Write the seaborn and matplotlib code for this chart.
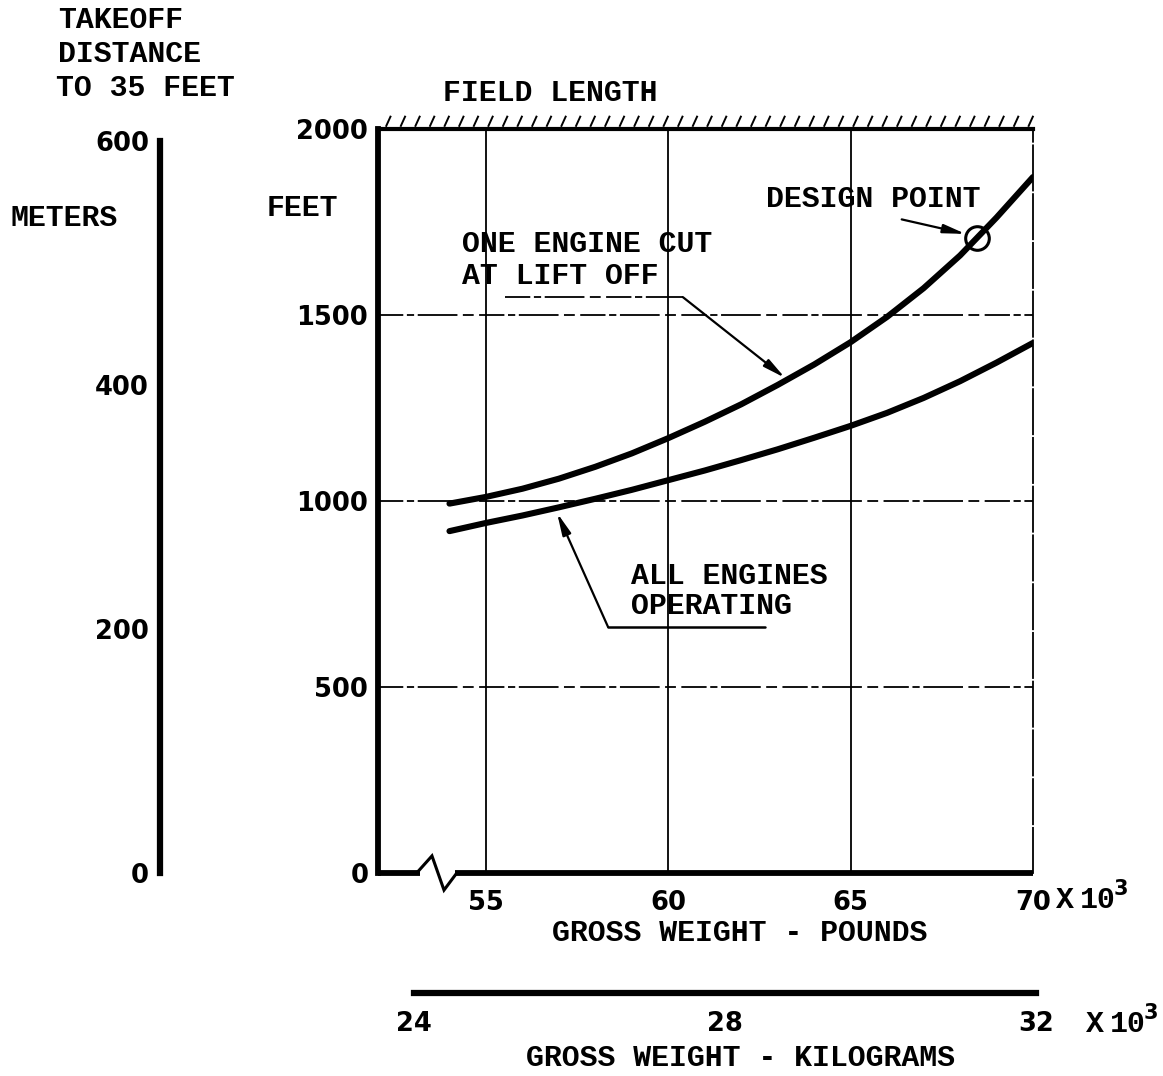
import numpy as np
import pandas as pd
import matplotlib
matplotlib.use("Agg")
import matplotlib.pyplot as plt
from matplotlib.collections import LineCollection
import seaborn as sns

# Gross weight (thousands of pounds) and takeoff distance to 35 ft (feet)
weight_klb = [54, 55, 56, 57, 58, 59, 60, 61, 62, 63, 64, 65, 66, 67, 68, 69, 70]
one_engine_cut_ft = [993, 1011, 1033, 1060, 1092, 1128, 1169, 1213, 1260, 1312,
                     1367, 1427, 1495, 1572, 1660, 1762, 1871]
all_engines_ft = [919, 941, 961, 983, 1006, 1030, 1056, 1082, 1110, 1139,
                  1170, 1202, 1237, 1277, 1322, 1372, 1425]

design_point_klb = 68.46
design_point_ft = 1708

feet_ticks = [0, 500, 1000, 1500, 2000]
pound_ticks = [55, 60, 65, 70]
meter_ticks = [0, 200, 400, 600]
kilogram_ticks = [24, 28, 32]

FT_TO_M = 0.3048

df = pd.DataFrame({
    "weight": weight_klb * 2,
    "distance": one_engine_cut_ft + all_engines_ft,
    "case": ["one engine cut"] * len(weight_klb) + ["all engines"] * len(weight_klb),
})

sns.set_theme(style="white")
plt.rcParams["font.family"] = ["DejaVu Sans"]
TYPE = dict(family="Liberation Mono", fontweight="bold", fontsize=21.5, color="black")
NUM = dict(family="DejaVu Sans", fontweight="bold", fontsize=18.5, color="black")
SUP = dict(family="DejaVu Sans", fontweight="bold", fontsize=15, color="black")

W, H = 1163, 1076
fig = plt.figure(figsize=(W / 100, H / 100), dpi=100)
fig.patch.set_facecolor("white")


def fx(px):
    return px / W


def fy(py):
    return 1 - py / H


# main chart in pounds / feet
left, right, top, bottom = 378, 1033, 129, 873
ax = fig.add_axes([fx(left), fy(bottom), fx(right - left), fy(top) - fy(bottom)])
xmin = 52.04
ax.set_xlim(xmin, 70)
ax.set_ylim(0, 2000)
ax.set_facecolor("white")

sns.lineplot(data=df, x="weight", y="distance", hue="case",
             palette={"one engine cut": "black", "all engines": "black"},
             linewidth=4.4, legend=False, ax=ax, solid_capstyle="round")

# grid
for v in pound_ticks[:-1]:
    ax.axvline(v, color="black", lw=1.3, zorder=1)
for h in feet_ticks[1:-1]:
    ax.axhline(h, color="black", lw=1.3, linestyle=(0, (14, 2, 4, 2, 22, 3, 6, 3)), zorder=1)

# frame
ax.spines["left"].set_linewidth(4.2)
ax.spines["top"].set_linewidth(3.0)
ax.spines["right"].set_linewidth(1.3)
ax.spines["right"].set_linestyle((0, (25, 2)))
ax.spines["bottom"].set_visible(False)
for s in ax.spines.values():
    s.set_color("black")

# baseline with axis break
ax.plot([xmin, 53.19], [0, 0], color="black", lw=4.2, clip_on=False, solid_capstyle="butt")
ax.plot([54.15, 70], [0, 0], color="black", lw=4.2, clip_on=False, solid_capstyle="butt")
ax.plot([53.1, 53.52, 53.85, 54.2], [0, 46, -46, 0], color="black", lw=2.2,
        clip_on=False, solid_joinstyle="miter")

ax.set_xticks(pound_ticks)
ax.set_yticks(feet_ticks)
ax.set_xticklabels([str(t) for t in pound_ticks], **NUM)
ax.set_yticklabels([str(t) for t in feet_ticks], **NUM)
ax.tick_params(axis="x", length=4, width=2, pad=8, direction="out", color="black")
ax.tick_params(axis="y", length=3, width=2, pad=4, direction="out", color="black")
ax.set_xlabel("")
ax.set_ylabel("")
ax.grid(False)

# field-length hatching above the top edge
hx = np.arange(0.012, 1.0, 14.6 / (right - left))
segs = [[(x0, 1.003), (x0 + 5.0 / (right - left), 1.003 + 11.0 / (bottom - top))] for x0 in hx]
ax.add_collection(LineCollection(segs, colors="black", linewidths=1.4,
                                 transform=ax.transAxes, clip_on=False))

# design point
ax.plot([design_point_klb], [design_point_ft], marker="o", markersize=17,
        markerfacecolor="none", markeredgecolor="black", markeredgewidth=2.2)

arrow = dict(arrowstyle="-|>,head_length=1.1,head_width=0.22", color="black", lw=1.6,
             shrinkA=0, shrinkB=0)
ax.annotate("", xy=(68.15, 1718), xytext=(66.4, 1757), arrowprops=arrow)

# leader for the one-engine-cut curve
ax.plot([55.52, 60.40], [1548, 1548], color="black", lw=1.3,
        linestyle=(0, (14, 2, 4, 2, 22, 3, 6, 3)))
ax.annotate("", xy=(63.2, 1331), xytext=(60.40, 1548), arrowprops=arrow)

# leader for the all-engines curve
ax.plot([58.35, 62.65], [661, 661], color="black", lw=1.8)
ax.annotate("", xy=(56.95, 968), xytext=(58.35, 661), arrowprops=arrow)

# metres scale
mh = fy(top) - fy(bottom)
axm = fig.add_axes([fx(160), fy(bottom), 0.01, mh])
axm.set_ylim(0, 2000 * FT_TO_M)
axm.set_xlim(0, 1)
axm.patch.set_visible(False)
for k in ["top", "right", "bottom"]:
    axm.spines[k].set_visible(False)
axm.spines["left"].set_linewidth(4.5)
axm.spines["left"].set_color("black")
axm.spines["left"].set_bounds(0, meter_ticks[-1])
axm.set_xticks([])
axm.set_yticks(meter_ticks)
axm.set_yticklabels([str(t) for t in meter_ticks], **NUM)
axm.tick_params(axis="y", length=5, width=2.5, pad=3, color="black")
axm.grid(False)

# kilogram scale
k0_px, k1_px = 414, 1036
axk = fig.add_axes([fx(k0_px), fy(993), fx(k1_px - k0_px), 0.01])
axk.set_xlim(kilogram_ticks[0], kilogram_ticks[-1])
axk.patch.set_visible(False)
for k in ["top", "right", "left"]:
    axk.spines[k].set_visible(False)
axk.spines["bottom"].set_linewidth(4.5)
axk.spines["bottom"].set_color("black")
axk.set_yticks([])
axk.set_xticks(kilogram_ticks)
axk.set_xticklabels([str(t) for t in kilogram_ticks], **NUM)
axk.tick_params(axis="x", length=5, width=2.5, pad=8, color="black")
axk.grid(False)

# text
fig.text(fx(58), fy(20), "TAKEOFF", va="center", ha="left", **TYPE)
fig.text(fx(58), fy(54), "DISTANCE", va="center", ha="left", **TYPE)
fig.text(fx(56), fy(88), "TO 35 FEET", va="center", ha="left", **TYPE)
fig.text(fx(10), fy(218), "METERS", va="center", ha="left", **TYPE)
fig.text(fx(267), fy(208), "FEET", va="center", ha="left", **TYPE)
fig.text(fx(443), fy(93), "FIELD LENGTH", va="center", ha="left", **TYPE)
fig.text(fx(766), fy(199), "DESIGN POINT", va="center", ha="left", **TYPE)
fig.text(fx(462), fy(244), "ONE ENGINE CUT", va="center", ha="left", **TYPE)
fig.text(fx(462), fy(276), "AT LIFT OFF", va="center", ha="left", **TYPE)
fig.text(fx(631), fy(576), "ALL ENGINES", va="center", ha="left", **TYPE)
fig.text(fx(631), fy(606), "OPERATING", va="center", ha="left", **TYPE)
fig.text(fx(740), fy(933), "GROSS WEIGHT - POUNDS", va="center", ha="center", **TYPE)
fig.text(fx(740), fy(1058), "GROSS WEIGHT - KILOGRAMS", va="center", ha="center", **TYPE)

# "X 10^3" multipliers after the last tick of each weight scale
for xx, yy in [(1056, 900), (1086, 1024)]:
    fig.text(fx(xx), fy(yy), "X", va="center", ha="left", **TYPE)
    fig.text(fx(xx + 24), fy(yy), "10", va="center", ha="left", **TYPE)
    fig.text(fx(xx + 58), fy(yy - 11), "3", va="center", ha="left", **SUP)

fig.savefig("out.png", dpi=100, facecolor="white")
